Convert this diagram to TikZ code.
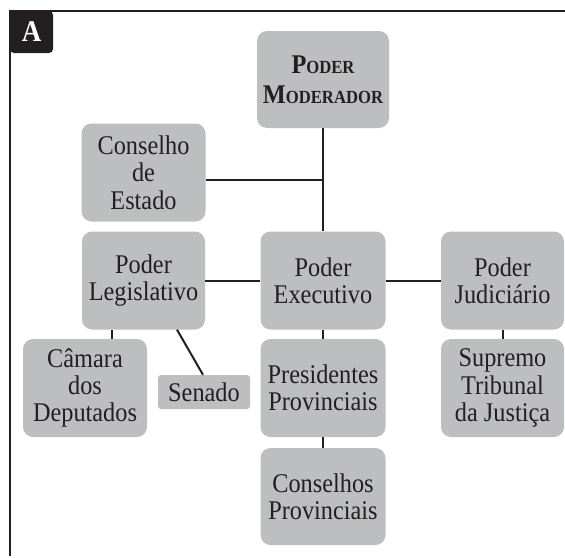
\documentclass[tikz,border=0pt]{standalone}
\usepackage{fontspec}
\setmainfont{Liberation Serif}[FakeStretch=0.9]
\usepackage{tikz}
\usetikzlibrary{
  calc,positioning,
  arrows.meta
}
\definecolor{boxgray}{HTML}{BCBEC0}
\definecolor{ink}{HTML}{231F20}

\begin{document}
\begin{tikzpicture}[x=1pt,y=1pt,
  power/.style={draw=none,fill=boxgray,rounded corners=10pt,inner sep=0pt,
    minimum width=124pt,minimum height=98pt,align=center,text=ink,
    font=\fontsize{27}{27.3}\selectfont},
  small/.style={power,rounded corners=3pt,minimum width=92pt,minimum height=34pt},
  link/.style={ink,line width=2pt},
  tag/.style={fill=ink,rounded corners=4pt,inner sep=0pt,minimum width=43pt,
    minimum height=42pt,text=white,font=\fontsize{30}{30}\selectfont\bfseries}
]
\useasboundingbox (0.000000,0.000000) rectangle (565.000000,-557.000000);

\draw[link] (565.000000,-11.000000) -- (10.000000,-11.000000) -- (10.000000,-556.000000);
\node[tag] (a) at (31.500000,-32.000000) {A};

\node[power,minimum width=132pt,minimum height=97pt,
  font=\fontsize{27}{30}\selectfont\bfseries] (mod) at (323.000000,-79.500000)
  {P{\fontsize{18.5}{30}\selectfont ODER}\\M{\fontsize{18.5}{30}\selectfont ODERADOR}};
\node[power] (est) at (143.500000,-172.500000) {Conselho\\de\\Estado};
\node[power,minimum width=123pt] (leg) at (143.500000,-280.500000) {Poder\\Legislativo};
\node[power,minimum width=125pt] (exe) at (323.000000,-280.500000) {Poder\\Executivo};
\node[power,minimum width=123pt] (jud) at (502.500000,-280.500000) {Poder\\Judiciário};
\node[power] (cam) at (85.000000,-388.000000) {Câmara\\dos\\Deputados};
\node[small] (sen) at (204.000000,-392.000000) {Senado};
\node[power,minimum width=125pt] (pre) at (323.000000,-388.000000) {Presidentes\\Provinciais};
\node[power,minimum width=123pt] (sup) at (502.500000,-388.000000) {Supremo\\Tribunal\\da Justiça};
\node[power,minimum width=125pt,minimum height=97pt] (con) at (323.000000,-496.500000) {Conselhos\\Provinciais};

\coordinate (j) at (323.000000,-180.000000);
\draw[link] (mod.south) -- (exe.north);
\draw[link] (est.east |- j) -- (j);
\draw[link] (leg.east) -- (exe.west);
\draw[link] (exe.east) -- (jud.west);
\draw[link] ([xshift=27pt]cam.north) -- ([xshift=27pt]cam.north |- leg.south);
\draw[link] ([xshift=33.5pt]leg.south) -- ([xshift=-1pt]sen.north);
\draw[link] (exe.south) -- (pre.north);
\draw[link] (pre.south) -- (con.north);
\draw[link] (jud.south) -- (sup.north);
\end{tikzpicture}
\end{document}
